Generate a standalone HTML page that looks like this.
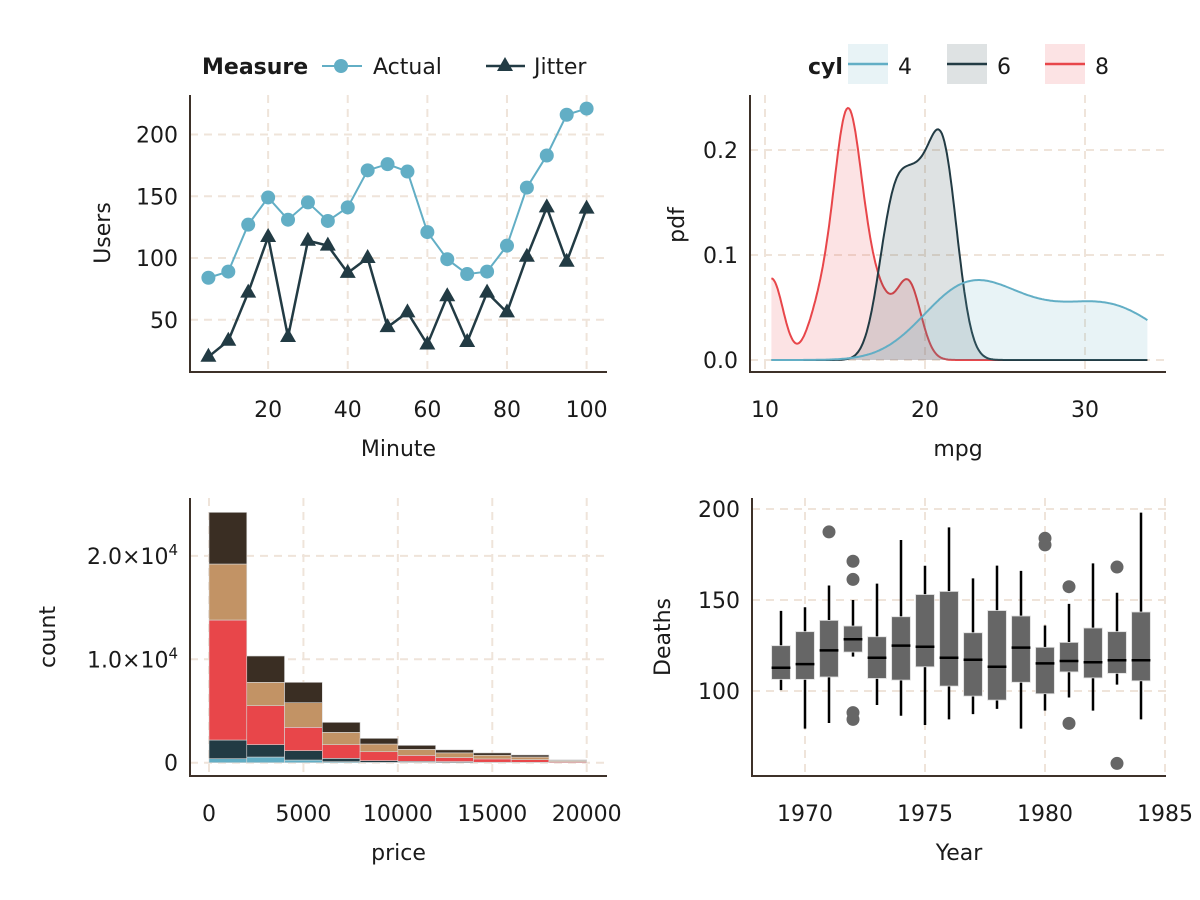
<!DOCTYPE html>
<html><head><meta charset="utf-8"><style>
html,body{margin:0;padding:0;background:#fff;}
svg{display:block;font-family:"DejaVu Sans","Liberation Sans",sans-serif;}
</style></head><body>
<svg id="s" width="1200" height="900" viewBox="0 0 1200 900" xmlns="http://www.w3.org/2000/svg"></svg>
<script>
// ---------- Data ----------
const minutes = [5,10,15,20,25,30,35,40,45,50,55,60,65,70,75,80,85,90,95,100];
const actualUsers = [84,89,127,149,131,145,130,141,171,176,170,121,99,87,89,110,157,183,216,221];
const jitterUsers = [20,33,72,117,36,114,110,88,100,44,56,30,69,32,72,56,101,141,97,140];
const tlXTicks = [20,40,60,80,100];
const tlYTicks = [50,100,150,200];

const mpgCyl4 = [22.8,24.4,22.8,32.4,30.4,33.9,21.5,27.3,26.0,30.4,21.4];
const mpgCyl6 = [21.0,21.0,21.4,18.1,19.2,17.8,19.7];
const mpgCyl8 = [18.7,14.3,16.4,17.3,15.2,10.4,10.4,14.7,15.5,15.2,13.3,19.2,15.8,15.0];
const trXTicks = [10,20,30];
const trYTicks = [0.0,0.1,0.2];
const trYLabels = ["0.0","0.1","0.2"];

const priceBinStarts = [0,2000,4000,6000,8000,10000,12000,14000,16000,18000];
const priceBinWidth = 2000;
const countFair = [387,548,258,97,32,32,16,10,5,3];
const countGood = [1805,1193,903,322,161,97,97,32,32,10];
const countVeryGood = [11606,3772,2257,1322,870,580,387,322,258,97];
const countPremium = [5416,2257,2386,1193,742,580,451,355,258,97];
const countIdeal = [4997,2547,1967,967,548,387,290,226,193,65];
const blXTicks = [0,5000,10000,15000,20000];
const blYTicks = [0,10000,20000];

const years = [1969,1970,1971,1972,1973,1974,1975,1976,1977,1978,1979,1980,1981,1982,1983,1984];
const whiskerLow = [100.5,79.3,82.4,118.9,92.3,86.4,81.3,84.4,87.3,90.2,79.3,89.2,96.4,89.2,103.5,84.4];
const q1 = [106.4,106.4,107.7,121.4,106.9,106,113.3,102.7,97.2,95,104.8,98.5,110.5,107.2,109.7,105.6];
const median = [112.8,114.8,122.3,128.4,118.3,124.9,124.3,118.3,117.2,113.3,123.8,115.2,116.5,115.8,116.9,116.9];
const q3 = [124.9,132.6,138.8,135.7,129.8,140.8,153,154.7,132,144.2,141.2,124,126.7,134.6,132.6,143.4];
const whiskerHigh = [144,146,158,150,159,183,168.8,189.9,161.9,168.9,166,136,147.9,170.1,154,198];
const outlierYears = [1971,1972,1972,1972,1972,1980,1980,1981,1981,1983,1983];
const outlierValues = [187.4,171.3,161.3,88.1,84.4,183.9,180.3,157.3,82.2,168.1,60.2];
const brXTicks = [1970,1975,1980,1985];
const brYTicks = [100,150,200];

// ---------- helpers ----------
const NS="http://www.w3.org/2000/svg";
const svg=document.getElementById('s');
function mk(tag,attrs,parent){const e=document.createElementNS(NS,tag);for(const k in attrs)e.setAttribute(k,attrs[k]);(parent||svg).appendChild(e);return e;}
const GRID="#efe4da", AXIS="#3d3129", TXT="#1a1a1a";
const BLUE="#62aec5", DARK="#223b44", RED="#e8464a", TAN="#c29365", BROWN="#3a2e23";
const FS=22;
function lin(d0,d1,r0,r1){return v=>r0+(v-d0)*(r1-r0)/(d1-d0);}
function panel(name,L,T,R,B,xs,ys,xt,yt,xl,yl,xtitle){
  const g=mk('g',{});
  
  
  xt.forEach(v=>{const l=mk('line',{x1:xs(v),x2:xs(v),y1:T,y2:B,stroke:GRID,'stroke-width':2,'stroke-dasharray':'8 6'},g);
    });
  yt.forEach(v=>{const l=mk('line',{x1:L,x2:R,y1:ys(v),y2:ys(v),stroke:GRID,'stroke-width':2,'stroke-dasharray':'8 6'},g);
    });
  const ax=mk('path',{d:`M${L},${T}V${B}H${R}`,fill:'none',stroke:AXIS,'stroke-width':2},g);
  
  xt.forEach((v,i)=>{const t=mk('text',{x:xs(v),y:B+45,'text-anchor':'middle','font-size':FS,fill:TXT},g);t.textContent=xl[i];
    });
  yt.forEach((v,i)=>{const t=mk('text',{x:L-12,y:ys(v)+8,'text-anchor':'end','font-size':FS,fill:TXT},g);
    if(typeof yl[i]==='object'){t.textContent=yl[i][0];const sp=mk('tspan',{dy:-9,'font-size':15},t);sp.textContent=yl[i][1];}
    else t.textContent=yl[i];
    });
  const xtt=mk('text',{x:(L+R)/2,y:B+84,'text-anchor':'middle','font-size':FS,fill:TXT},g);xtt.textContent=xtitle;
  
  return g;
}

// ---------- Top-left ----------
{
const L=190,T=95,R=607,B=372;
const xs=lin(0,100,188.5,586.6), ys=lin(0,200,381.5,134.5);
const g=panel('users-line-panel',L,T,R,B,xs,ys,tlXTicks,tlYTicks,tlXTicks.map(String),tlYTicks.map(String),'Minute');
const yt=mk('text',{transform:'translate(110,233) rotate(-90)','text-anchor':'middle','font-size':FS,fill:TXT},g);yt.textContent='Users';

const pa=mk('polyline',{points:minutes.map((m,i)=>xs(m)+','+ys(actualUsers[i])).join(' '),fill:'none',stroke:BLUE,'stroke-width':2},g);

minutes.forEach((m,i)=>{const c=mk('circle',{cx:xs(m),cy:ys(actualUsers[i]),r:7,fill:BLUE},g);
  });
const pj=mk('polyline',{points:minutes.map((m,i)=>xs(m)+','+ys(jitterUsers[i])).join(' '),fill:'none',stroke:DARK,'stroke-width':2.5},g);

minutes.forEach((m,i)=>{const x=xs(m),y=ys(jitterUsers[i]);const p=mk('path',{d:`M${x},${y-9}L${x+8},${y+5}L${x-8},${y+5}Z`,fill:DARK},g);
  });
const lg=mk('g',{});
const lt=mk('text',{x:202,y:74,'font-size':FS,'font-weight':'bold',fill:TXT},lg);lt.textContent='Measure';
const e1=mk('g',{},lg);
mk('line',{x1:322,x2:362,y1:66,y2:66,stroke:BLUE,'stroke-width':2},e1);mk('circle',{cx:341,cy:66,r:7,fill:BLUE},e1);
const t1=mk('text',{x:373,y:74,'font-size':FS,fill:TXT},e1);t1.textContent='Actual';
const e2=mk('g',{},lg);
mk('line',{x1:486,x2:525,y1:66,y2:66,stroke:DARK,'stroke-width':2.5},e2);mk('path',{d:'M505,57L513,71L497,71Z',fill:DARK},e2);
const t2=mk('text',{x:534,y:74,'font-size':FS,fill:TXT},e2);t2.textContent='Jitter';
}

// ---------- Top-right ----------
{
const L=750,T=95,R=1166,B=372;
const xs=lin(10,30,765,1085), ys=lin(0,0.2,360,150);
const g=panel('mpg-density-panel',L,T,R,B,xs,ys,trXTicks,trYTicks,trXTicks.map(String),trYLabels,'mpg');
const yt=mk('text',{transform:'translate(684,225) rotate(-90)','text-anchor':'middle','font-size':FS,fill:TXT},g);yt.textContent='pdf';

function quant(s,p){const h=(s.length-1)*p,lo=Math.floor(h);return s[lo]+(h-lo)*((s[lo+1]??s[lo])-s[lo]);}
function bw(d){const n=d.length,m=d.reduce((a,b)=>a+b)/n;const sd=Math.sqrt(d.reduce((a,b)=>a+(b-m)*(b-m),0)/(n-1));
  const s=[...d].sort((a,b)=>a-b);const iqr=(quant(s,0.75)-quant(s,0.25))/1.34;return 0.9*Math.min(sd,iqr)*Math.pow(n,-0.2);}
const all=mpgCyl4.concat(mpgCyl6,mpgCyl8);const lo=Math.min(...all),hi=Math.max(...all);
const groups=[[mpgCyl8,RED,'density-cyl-8'],[mpgCyl6,DARK,'density-cyl-6'],[mpgCyl4,BLUE,'density-cyl-4']];
groups.forEach(([d,col,nm])=>{const h=bw(d);const pts=[];
  for(let i=0;i<=300;i++){const x=lo+(hi-lo)*i/300;let s=0;d.forEach(v=>{const z=(x-v)/h;s+=Math.exp(-0.5*z*z);});
    pts.push([xs(x),ys(s/(d.length*h*Math.sqrt(2*Math.PI)))]);}
  const line=pts.map((p,i)=>(i?'L':'M')+p[0].toFixed(1)+','+p[1].toFixed(1)).join('');
  const a=mk('path',{d:line+`L${xs(hi)},${ys(0)}L${xs(lo)},${ys(0)}Z`,fill:col,'fill-opacity':0.15},g);
  
  const l=mk('path',{d:line,fill:'none',stroke:col,'stroke-width':2},g);
  });
const lg=mk('g',{});
const lt=mk('text',{x:808,y:74,'font-size':FS,'font-weight':'bold',fill:TXT},lg);lt.textContent='cyl';
[[848,BLUE,'4'],[947,DARK,'6'],[1045,RED,'8']].forEach(([x,c,lab])=>{
  const e=mk('g',{},lg);
  mk('rect',{x:x,y:44,width:40,height:40,fill:c,'fill-opacity':0.15},e);
  mk('line',{x1:x,x2:x+40,y1:64,y2:64,stroke:c,'stroke-width':2.5},e);
  const t=mk('text',{x:x+50,y:74,'font-size':FS,fill:TXT},e);t.textContent=lab;});
}

// ---------- Bottom-left ----------
{
const L=190,T=498,R=607,B=776;
const xs=lin(0,20000,209,586.7), ys=lin(0,10000,762.7,659.3);
const g=panel('price-histogram-panel',L,T,R,B,xs,ys,blXTicks,blYTicks,blXTicks.map(String),['0',['1.0×10','4'],['2.0×10','4']],'price');
const yt=mk('text',{transform:'translate(55,637) rotate(-90)','text-anchor':'middle','font-size':FS,fill:TXT},g);yt.textContent='count';

const series=[[countFair,BLUE,'fair'],[countGood,DARK,'good'],[countVeryGood,RED,'very-good'],[countPremium,TAN,'premium'],[countIdeal,BROWN,'ideal']];
priceBinStarts.forEach((s,i)=>{let cum=0;
  series.forEach(([arr,col,nm])=>{const y0=ys(cum),y1=ys(cum+arr[i]);cum+=arr[i];
    const r=mk('rect',{x:xs(s),y:y1,width:xs(s+priceBinWidth)-xs(s),height:Math.max(0,y0-y1),fill:col,stroke:'#d8d8d8','stroke-width':0.6},g);
    });});
}

// ---------- Bottom-right ----------
{
const L=752,T=498,R=1166,B=776;
const xs=lin(1970,1985,805,1165), ys=lin(100,200,691,509);
const g=panel('deaths-boxplot-panel',L,T,R,B,xs,ys,brXTicks,brYTicks,brXTicks.map(String),brYTicks.map(String),'Year');
const yt=mk('text',{transform:'translate(670,637) rotate(-90)','text-anchor':'middle','font-size':FS,fill:TXT},g);yt.textContent='Deaths';

const hw=0.39;
years.forEach((yr,i)=>{const bg=mk('g',{},g);
  const cx=xs(yr);
  mk('line',{x1:cx,x2:cx,y1:ys(whiskerHigh[i]),y2:ys(whiskerLow[i]),stroke:'#000','stroke-width':2.5},bg);
  mk('rect',{x:xs(yr-hw),y:ys(q3[i]),width:xs(yr+hw)-xs(yr-hw),height:ys(q1[i])-ys(q3[i]),fill:'#666',stroke:'#ddd','stroke-width':0.8},bg);
  mk('line',{x1:xs(yr-hw),x2:xs(yr+hw),y1:ys(median[i]),y2:ys(median[i]),stroke:'#000','stroke-width':2.5},bg);});
outlierYears.forEach((yr,i)=>{const c=mk('circle',{cx:xs(yr),cy:ys(outlierValues[i]),r:6.5,fill:'#666'},g);
  });
}
</script>
</body></html>
